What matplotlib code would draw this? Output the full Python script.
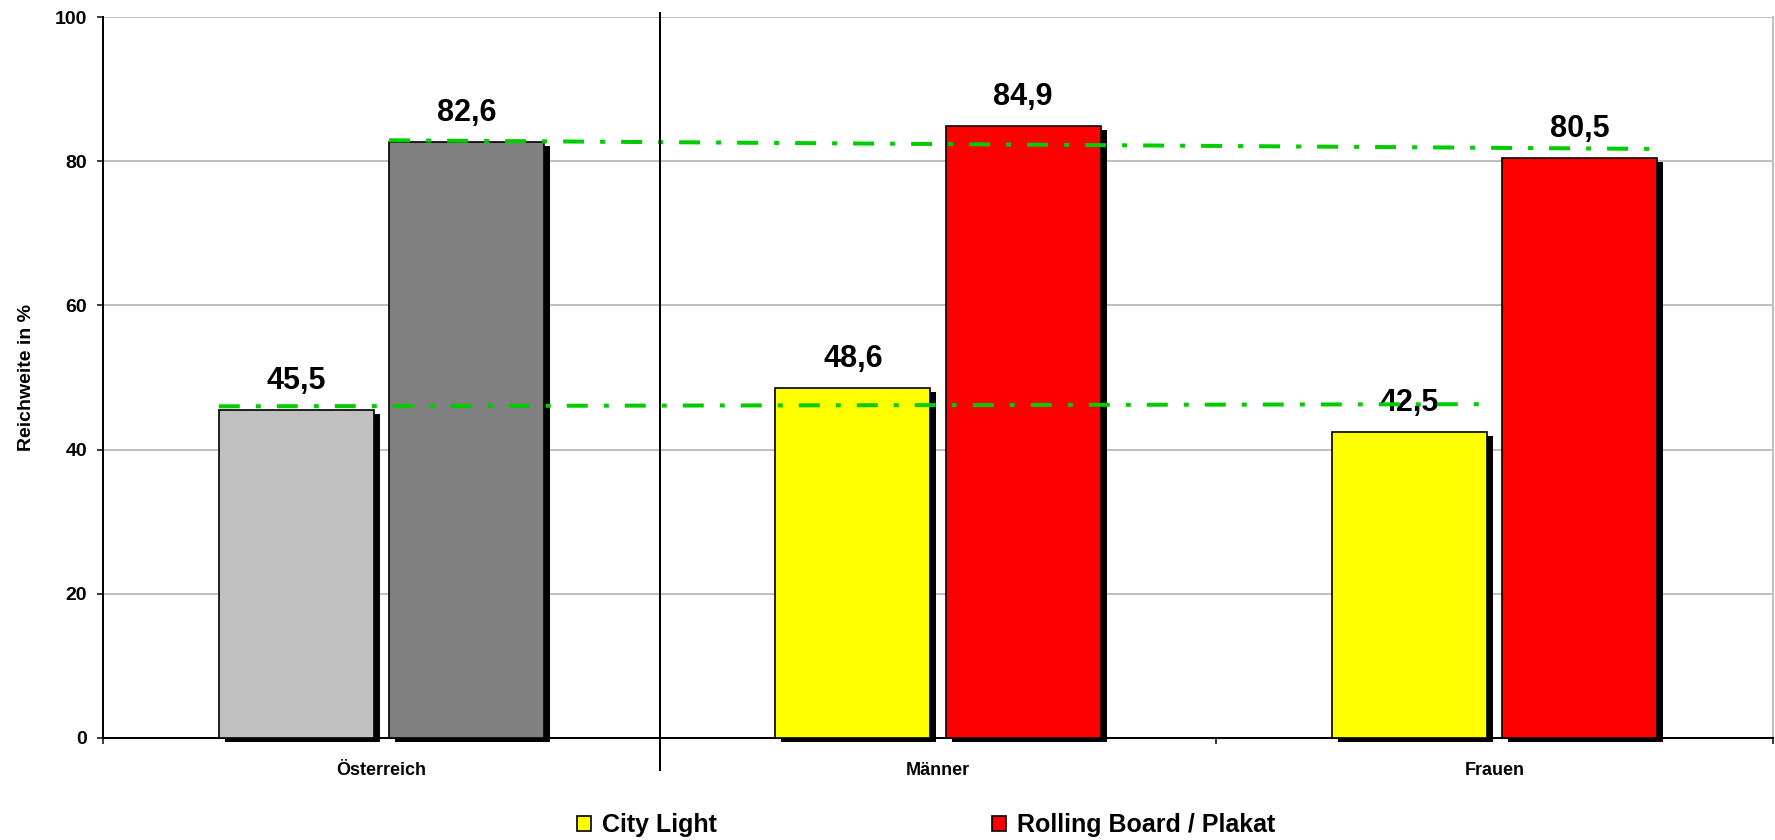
import numpy as np
import matplotlib
matplotlib.use('Agg')
import matplotlib.pyplot as plt
from matplotlib.patches import Patch
import matplotlib.patheffects as pe

plt.rcParams['font.family'] = ['Liberation Sans', 'DejaVu Sans']
plt.rcParams['font.weight'] = 'bold'

# data
categories = ['Österreich', 'Männer', 'Frauen']
city_light = [45.5, 48.6, 42.5]
rolling_board = [82.6, 84.9, 80.5]
city_colors = ['#C0C0C0', '#FFFF00', '#FFFF00']
rb_colors = ['#808080', '#FF0000', '#FF0000']
# trend lines (start, end)
city_trend = [46.0, 46.3]
rb_trend = [82.9, 81.7]
yticks = [0, 20, 40, 60, 80, 100]
legend_labels = ['City Light', 'Rolling Board / Plakat']

fig = plt.figure(figsize=(17.75, 8.4), dpi=100)
ax = fig.add_axes([103/1775, 1 - 738/840, 1670/1775, 721/840])

x = np.arange(len(categories))
w = 0.278
off = 0.153
px = 72/100.  # points per pixel
shadow = [pe.SimplePatchShadow(offset=(6*px, -4*px), shadow_rgbFace='black', alpha=1.0), pe.Normal()]

b1 = ax.bar(x - off, city_light, w, color=city_colors, edgecolor='black', linewidth=1.2,
            zorder=3, clip_on=False)
b2 = ax.bar(x + off, rolling_board, w, color=rb_colors, edgecolor='black', linewidth=1.2,
            zorder=3, clip_on=False)
for b in list(b1) + list(b2):
    b.set_path_effects(shadow)

# value labels
for xi, v in zip(x - off, city_light):
    ax.annotate('{:.1f}'.format(v).replace('.', ','), (xi, v), xytext=(0, 21*px),
                textcoords='offset points', ha='center', va='baseline',
                fontsize=22, fontweight='bold', zorder=4)
for xi, v in zip(x + off, rolling_board):
    ax.annotate('{:.1f}'.format(v).replace('.', ','), (xi, v), xytext=(0, 21*px),
                textcoords='offset points', ha='center', va='baseline',
                fontsize=22, fontweight='bold', zorder=4)

# green dash-dot trend lines
green = '#00CC00'
ax.plot([x[0] - off - w/2, x[-1] - off + w/2], city_trend, color=green, lw=4*px,
        dashes=(5.25, 4, 1.25, 4), zorder=5)
ax.plot([x[0] + off - w/2, x[-1] + off + w/2], rb_trend, color=green, lw=4*px,
        dashes=(5.25, 4, 1.25, 4), zorder=5)

# separator line
ax.axvline(0.5, ymin=-32/721, ymax=725/721, color='black', lw=2*px*1.0, clip_on=False, zorder=6)

ax.set_xlim(-0.5, len(categories) - 0.5)
ax.set_ylim(0, 100)
ax.set_yticks(yticks)
ax.set_yticklabels([str(t) for t in yticks], fontsize=14, fontweight='bold')
ax.yaxis.grid(True, color='#C0C0C0', lw=2*px, zorder=0)
ax.set_axisbelow(True)

ax.set_xticks(np.arange(len(categories) + 1) - 0.5)
ax.set_xticklabels([])
ax.set_xticks(x, minor=True)
ax.set_xticklabels(categories, minor=True, fontsize=13, fontweight='bold')
ax.tick_params(axis='x', which='minor', length=0, pad=17)
ax.tick_params(axis='x', which='major', length=6*px, width=1.5*px, direction='out')
ax.tick_params(axis='y', length=6*px, width=1.5*px, direction='out', pad=7)

ax.set_ylabel('Reichweite in %', fontsize=14, fontweight='bold', labelpad=14)

for s in ['left', 'bottom']:
    ax.spines[s].set_linewidth(2*px)
    ax.spines[s].set_color('black')
ax.spines['top'].set_visible(False)
ax.spines['right'].set_color('#C0C0C0')
ax.spines['right'].set_linewidth(2*px)

handles = [Patch(facecolor='#FFFF00', edgecolor='black', lw=1.2),
           Patch(facecolor='#FF0000', edgecolor='black', lw=1.2)]
fig.legend(handles, legend_labels, loc='center', bbox_to_anchor=(0.522, 0.018), ncol=2,
           frameon=False, prop={'size': 18, 'weight': 'bold'}, handlelength=0.55,
           handleheight=0.55, handletextpad=0.45, columnspacing=11, borderpad=0)

fig.savefig('out.png', dpi=100)
